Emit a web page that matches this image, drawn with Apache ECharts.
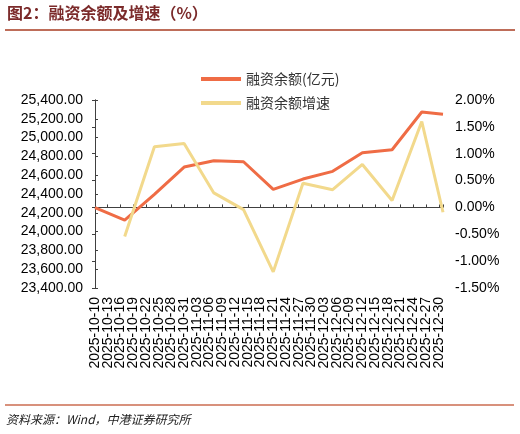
<!DOCTYPE html>
<html>
<head>
<meta charset="utf-8">
<title>融资余额及增速</title>
<script src="https://cdn.jsdelivr.net/npm/echarts@6/dist/echarts.min.js"></script>
<style>
  html, body { margin: 0; padding: 0; background: #fff; }
  #chart { width: 520px; height: 434px; }
</style>
</head>
<body>
<div id="chart"></div>
<script>
// weekly observation dates
const dates = ['2025-10-10', '2025-10-17', '2025-10-24', '2025-10-31', '2025-11-07', '2025-11-14',
  '2025-11-21', '2025-11-28', '2025-12-05', '2025-12-12', '2025-12-19', '2025-12-26', '2025-12-31']
// 融资余额(亿元)
const balance = [24254, 24123, 24397, 24687, 24754, 24743, 24450, 24559, 24641, 24839, 24871, 25272, 25248]
// 融资余额增速 (%), first week has no value
const growth = [null, -0.54, 1.13, 1.19, 0.27, -0.04, -1.20, 0.45, 0.33, 0.80, 0.13, 1.60, -0.09]

const axisStart = '2025-10-10'
const axisEnd = '2025-12-31'
const DAY = 86400000

const dayOf = d => (Date.parse(d) - Date.parse(axisStart)) / DAY
const fmtDay = v => {
  const d = new Date(Date.parse(axisStart) + v * DAY)
  const pad = n => String(n).padStart(2, '0')
  return d.getUTCFullYear() + '-' + pad(d.getUTCMonth() + 1) + '-' + pad(d.getUTCDate())
}

const chart = echarts.init(document.getElementById('chart'))
const axisColor = '#404040'
const fontFamily = 'Liberation Sans, Arial, Noto Sans CJK SC, sans-serif'

const xBase = {
  type: 'value',
  min: 0,
  max: dayOf(axisEnd),
  interval: 3,
  position: 'bottom',
  splitLine: { show: false }
}
const xLabel = {
  rotate: 90,
  fontSize: 14,
  color: '#000',
  margin: 9,
  hideOverlap: false
}

const option = {
  animation: false,
  textStyle: { fontFamily },
  graphic: [
    {
      type: 'text', left: 7, top: 5,
      style: { text: '图2：融资余额及增速（%）', fill: '#7b2a2a', font: 'bold 16px "Noto Sans CJK SC"' }
    },
    {
      type: 'line', shape: { x1: 5, y1: 30, x2: 515, y2: 30 },
      style: { stroke: '#a83c22', lineWidth: 1.5 }
    },
    {
      type: 'line', shape: { x1: 5, y1: 405, x2: 514, y2: 405 },
      style: { stroke: '#d8917c', lineWidth: 2 }
    },
    {
      type: 'text', left: 6, top: 413,
      style: { text: '资料来源：Wind，中港证券研究所', fill: '#222', font: 'italic 12px "Noto Sans CJK SC"' }
    }
  ],
  legend: {
    orient: 'vertical',
    left: 196,
    top: 67,
    itemWidth: 40,
    itemHeight: 4,
    itemGap: 10,
    icon: 'rect',
    textStyle: { fontSize: 14, color: '#333', fontFamily: 'Noto Sans CJK SC' },
    data: ['融资余额(亿元)', '融资余额增速']
  },
  grid: { left: 95, right: 77, top: 100, bottom: 146 },
  xAxis: [
    {
      ...xBase,
      axisLine: { lineStyle: { color: axisColor } },
      axisTick: { inside: true, length: 3, lineStyle: { color: axisColor } },
      axisLabel: {
        ...xLabel,
        showMinLabel: false,
        formatter: v => (v > 0 && v % 3 === 0 ? fmtDay(v) : '')
      }
    },
    {
      // carries only the first date label, which the main axis drops on overlap
      ...xBase,
      axisLine: { show: false },
      axisTick: { show: false },
      axisLabel: {
        ...xLabel,
        showMinLabel: true,
        formatter: v => (v === 0 ? fmtDay(v) : '')
      }
    }
  ],
  yAxis: [
    {
      type: 'value',
      min: 23400,
      max: 25400,
      interval: 200,
      splitLine: { show: false },
      axisLine: { show: true, lineStyle: { color: axisColor } },
      axisTick: { show: true, inside: true, length: 3, lineStyle: { color: axisColor } },
      axisLabel: {
        fontSize: 14,
        color: '#000',
        margin: 12,
        formatter: v => v.toLocaleString('en-US', { minimumFractionDigits: 2, maximumFractionDigits: 2 })
      }
    },
    {
      type: 'value',
      min: -1.5,
      max: 2,
      interval: 0.5,
      splitLine: { show: false },
      axisLine: { show: true, lineStyle: { color: axisColor } },
      axisTick: { show: true, inside: true, length: 3, lineStyle: { color: axisColor } },
      axisLabel: {
        fontSize: 14,
        color: '#000',
        margin: 12,
        formatter: v => v.toFixed(2) + '%'
      }
    }
  ],
  series: [
    {
      name: '融资余额(亿元)',
      type: 'line',
      yAxisIndex: 0,
      data: dates.map((d, i) => [dayOf(d), balance[i]]),
      symbol: 'none',
      itemStyle: { color: '#ef6c45' },
      lineStyle: { width: 3, color: '#ef6c45' }
    },
    {
      name: '融资余额增速',
      type: 'line',
      yAxisIndex: 1,
      data: dates.map((d, i) => [dayOf(d), growth[i]]),
      symbol: 'none',
      itemStyle: { color: '#f2d98c' },
      lineStyle: { width: 3, color: '#f2d98c' }
    }
  ]
}

chart.setOption(option)
window.addEventListener('resize', () => chart.resize())
</script>
</body>
</html>
